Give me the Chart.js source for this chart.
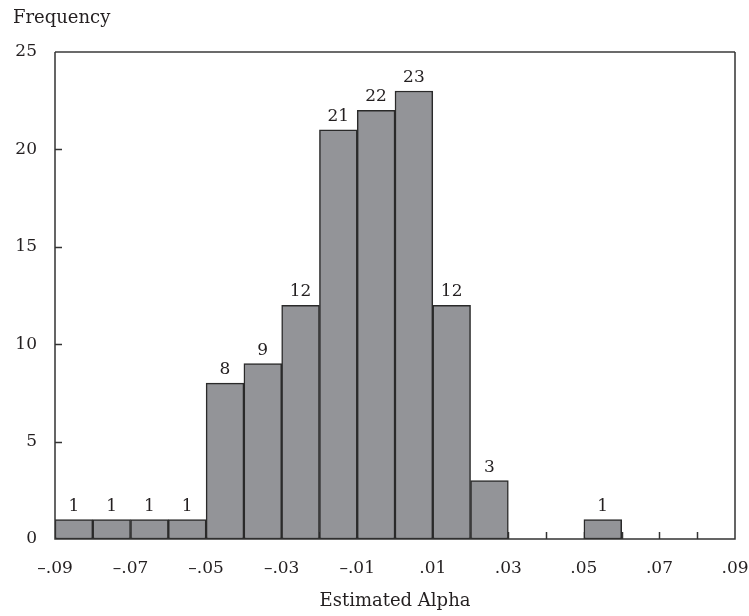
<!DOCTYPE html>
<html>
<head>
    <title>Estimated Alpha Histogram</title>
    <script src="https://cdn.jsdelivr.net/npm/chart.js"></script>
    <style>
        html, body { margin: 0; padding: 0; background: #fff; }
        .chart-container { width: 749px; height: 616px; }
    </style>
</head>
<body>
    <div class="chart-container">
        <canvas id="chartjs"></canvas>
    </div>

    <script>
        // bin lower edges (width .01) and frequencies
        const binStarts = [-0.09, -0.08, -0.07, -0.06, -0.05, -0.04, -0.03, -0.02, -0.01,
                           0.00, 0.01, 0.02, 0.03, 0.04, 0.05, 0.06, 0.07, 0.08];
        const counts = [1, 1, 1, 1, 8, 9, 12, 21, 22, 23, 12, 3, 0, 0, 1, 0, 0, 0];
        const binWidth = 0.01;
        const yTicks = [0, 5, 10, 15, 20, 25];

        const FONT = '"DejaVu Serif", "Liberation Serif", serif';
        const TEXT = '#231f20';

        const framePlugin = {
            id: 'frame',
            beforeDatasetsDraw: (chart) => {
                const ctx = chart.ctx;
                const area = chart.chartArea;
                const xs = chart.scales.x;
                const ys = chart.scales.y;
                ctx.save();
                ctx.strokeStyle = '#333';
                ctx.lineWidth = 1.5;
                // inward ticks on bin edges
                binStarts.slice(1).forEach(v => {
                    const px = Math.round(xs.getPixelForValue(v)) + 0.5;
                    ctx.beginPath();
                    ctx.moveTo(px, area.bottom);
                    ctx.lineTo(px, area.bottom - 7);
                    ctx.stroke();
                });
                yTicks.slice(1, -1).forEach(v => {
                    const py = Math.round(ys.getPixelForValue(v)) + 0.5;
                    ctx.beginPath();
                    ctx.moveTo(area.left, py);
                    ctx.lineTo(area.left + 7, py);
                    ctx.stroke();
                });
                ctx.restore();
            },
            afterDatasetsDraw: (chart) => {
                const ctx = chart.ctx;
                const area = chart.chartArea;
                ctx.save();
                // frame
                ctx.lineWidth = 2;
                ctx.strokeStyle = '#6b6b6b';
                ctx.beginPath();
                ctx.moveTo(area.left, area.top);
                ctx.lineTo(area.right, area.top);
                ctx.stroke();
                ctx.lineWidth = 1.5;
                ctx.strokeStyle = '#333';
                ctx.beginPath();
                ctx.moveTo(area.left, area.top);
                ctx.lineTo(area.left, area.bottom);
                ctx.lineTo(area.right, area.bottom);
                ctx.lineTo(area.right, area.top);
                ctx.stroke();

                // value labels over bars
                ctx.fillStyle = TEXT;
                ctx.font = '17px ' + FONT;
                ctx.textAlign = 'center';
                ctx.textBaseline = 'alphabetic';
                const meta = chart.getDatasetMeta(0);
                meta.data.forEach((bar, i) => {
                    if (!counts[i]) return;
                    ctx.fillText(String(counts[i]), bar.x, bar.y - 9);
                });

                // axis titles
                ctx.font = '18px ' + FONT;
                ctx.textAlign = 'left';
                ctx.fillText('Frequency', 13, 23);
                ctx.textAlign = 'center';
                ctx.fillText('Estimated Alpha', (area.left + area.right) / 2, 606);
                ctx.restore();
            }
        };

        const ctx = document.getElementById('chartjs').getContext('2d');

        new Chart(ctx, {
            type: 'bar',
            data: {
                datasets: [{
                    label: 'Frequency',
                    data: binStarts.map((s, i) => ({ x: s + binWidth / 2, y: counts[i] || null })),
                    backgroundColor: '#939498',
                    borderColor: '#2a2a2a',
                    borderWidth: 1.5,
                    borderSkipped: false,
                    barPercentage: 1,
                    categoryPercentage: 1
                }]
            },
            plugins: [framePlugin],
            options: {
                responsive: true,
                maintainAspectRatio: false,
                animation: false,
                layout: {
                    padding: { top: 52, right: 14, left: 0, bottom: 0 }
                },
                scales: {
                    x: {
                        type: 'linear',
                        min: -0.09,
                        max: 0.09,
                        offset: false,
                        grid: { display: false, drawTicks: false },
                        border: { display: false },
                        ticks: {
                            stepSize: 0.01,
                            autoSkip: false,
                            maxRotation: 0,
                            padding: 19,
                            color: TEXT,
                            font: { family: FONT, size: 17 },
                            callback: function(value) {
                                const n = Math.round(value * 100);
                                if (Math.abs(n) % 2 === 0) return '';
                                return (n < 0 ? '\u2013' : '') + '.' + String(Math.abs(n)).padStart(2, '0');
                            }
                        },
                        afterFit: function(scale) {
                            scale.height = 77;
                            scale.paddingLeft = 0;
                            scale.paddingRight = 0;
                        }
                    },
                    y: {
                        min: 0,
                        max: 25,
                        grid: { display: false, drawTicks: false },
                        border: { display: false },
                        ticks: {
                            stepSize: 5,
                            padding: 18,
                            color: TEXT,
                            font: { family: FONT, size: 17 }
                        },
                        afterFit: function(scale) {
                            scale.width = 55;
                            scale.paddingTop = 0;
                            scale.paddingBottom = 0;
                        }
                    }
                },
                plugins: {
                    legend: { display: false },
                    tooltip: { enabled: false }
                }
            }
        });
    </script>
</body>
</html>
